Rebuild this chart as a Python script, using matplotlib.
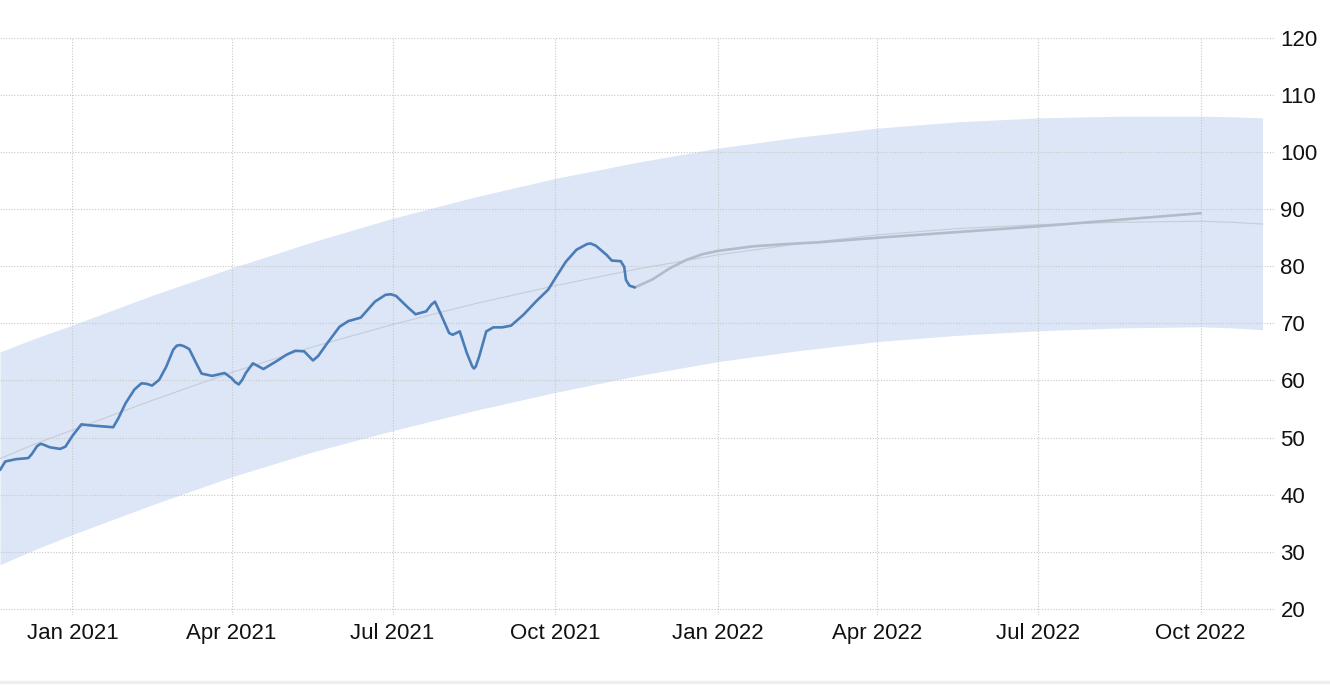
"""
Trend chart with forecast band, Nov 2020 - Nov 2022.
"""
import pandas as pd
import matplotlib.pyplot as plt

plt.rcParams['font.family'] = ['Liberation Sans', 'DejaVu Sans']

#### Data
hist_dates = ['2020-11-21', '2020-11-24', '2020-11-30', '2020-12-07', '2020-12-09',
              '2020-12-12', '2020-12-14', '2020-12-16', '2020-12-19', '2020-12-25',
              '2020-12-28', '2021-01-01', '2021-01-06', '2021-01-12', '2021-01-20',
              '2021-01-24', '2021-01-27', '2021-01-31', '2021-02-05', '2021-02-09',
              '2021-02-12', '2021-02-15', '2021-02-19', '2021-02-23', '2021-02-27',
              '2021-03-01', '2021-03-03', '2021-03-05', '2021-03-08', '2021-03-12',
              '2021-03-15', '2021-03-21', '2021-03-28', '2021-04-01', '2021-04-03',
              '2021-04-05', '2021-04-07', '2021-04-09', '2021-04-13', '2021-04-16',
              '2021-04-19', '2021-04-26', '2021-05-02', '2021-05-07', '2021-05-12',
              '2021-05-17', '2021-05-20', '2021-05-25', '2021-06-01', '2021-06-06',
              '2021-06-13', '2021-06-21', '2021-06-27', '2021-06-30', '2021-07-03',
              '2021-07-10', '2021-07-14', '2021-07-20', '2021-07-23', '2021-07-25',
              '2021-07-28', '2021-08-02', '2021-08-04', '2021-08-08', '2021-08-12',
              '2021-08-15', '2021-08-16', '2021-08-17', '2021-08-19', '2021-08-23',
              '2021-08-27', '2021-09-01', '2021-09-06', '2021-09-13', '2021-09-20',
              '2021-09-27', '2021-10-01', '2021-10-07', '2021-10-13', '2021-10-19',
              '2021-10-21', '2021-10-24', '2021-10-30', '2021-11-02', '2021-11-07',
              '2021-11-09', '2021-11-10', '2021-11-12', '2021-11-15']
hist_values = [44.3, 45.8, 46.2, 46.4, 47.1,
               48.5, 48.9, 48.7, 48.3, 48.0,
               48.4, 50.3, 52.3, 52.1, 51.9,
               51.8, 53.4, 56.0, 58.4, 59.5,
               59.4, 59.1, 60.1, 62.4, 65.4,
               66.1, 66.2, 66.0, 65.5, 63.0,
               61.2, 60.8, 61.3, 60.4, 59.7,
               59.3, 60.1, 61.3, 63.0, 62.5,
               62.0, 63.3, 64.5, 65.2, 65.1,
               63.5, 64.3, 66.5, 69.4, 70.4,
               71.0, 73.8, 75.0, 75.1, 74.8,
               72.7, 71.6, 72.1, 73.3, 73.8,
               71.8, 68.3, 68.0, 68.6, 64.8,
               62.5, 62.1, 62.4, 64.2, 68.6,
               69.3, 69.3, 69.6, 71.5, 73.8,
               75.9, 77.9, 80.8, 82.9, 83.9,
               84.0, 83.6, 82.0, 81.0, 80.9,
               79.9, 77.6, 76.6, 76.3]

fc_dates = ['2021-11-15', '2021-11-25', '2021-12-05', '2021-12-14', '2021-12-23',
            '2022-01-01', '2022-01-21', '2022-02-09', '2022-02-27', '2022-04-01',
            '2022-07-01', '2022-10-01']
fc_values = [76.3, 77.7, 79.7, 81.1, 82.1,
             82.7, 83.5, 83.9, 84.2, 85.0,
             87.0, 89.3]

band_dates = ['2020-11-21', '2020-12-11', '2021-01-01', '2021-02-15', '2021-04-01',
              '2021-05-16', '2021-07-01', '2021-08-16', '2021-10-01', '2021-11-16',
              '2022-01-01', '2022-02-15', '2022-04-01', '2022-05-16', '2022-07-01',
              '2022-08-16', '2022-10-01', '2022-10-19', '2022-11-05']
band_upper = [65.0, 67.4, 69.7, 74.9, 79.7, 84.2, 88.4, 92.1, 95.4, 98.2,
              100.7, 102.6, 104.2, 105.3, 106.0, 106.3, 106.3, 106.2, 106.0]
band_lower = [27.7, 30.4, 33.0, 38.2, 43.1, 47.4, 51.2, 54.7, 57.9, 60.8,
              63.3, 65.2, 66.8, 67.9, 68.7, 69.2, 69.4, 69.2, 68.9]
trend_values = [46.3, 48.9, 51.3, 56.5, 61.4, 65.8, 69.8, 73.4, 76.6, 79.5,
                82.0, 83.9, 85.5, 86.6, 87.3, 87.7, 87.9, 87.7, 87.4]

tick_dates = ['2021-01-01', '2021-04-01', '2021-07-01', '2021-10-01',
              '2022-01-01', '2022-04-01', '2022-07-01', '2022-10-01']
tick_labels = ['Jan 2021', 'Apr 2021', 'Jul 2021', 'Oct 2021',
               'Jan 2022', 'Apr 2022', 'Jul 2022', 'Oct 2022']
y_ticks = [20, 30, 40, 50, 60, 70, 80, 90, 100, 110, 120]

#### Sets up the figure
fig = plt.figure(figsize=(13.3, 6.86), dpi=100, facecolor='white')
ax = fig.add_axes([0, 0.1035, 0.9586, 0.8411])
for side in ['left', 'right', 'top', 'bottom']:
    ax.spines[side].set_visible(False)

bd = pd.to_datetime(band_dates)
ax.fill_between(bd, band_lower, band_upper, color='#dce6f7', linewidth=0,
                zorder=1)
ax.plot(bd, trend_values, color='#c6ccd6', linewidth=0.8, zorder=2)
ax.plot(pd.to_datetime(fc_dates), fc_values, color='#b3bbca', linewidth=1.9,
        solid_capstyle='round', solid_joinstyle='round', zorder=3)
ax.plot(pd.to_datetime(hist_dates), hist_values, color='#4a7cb6', linewidth=1.9,
        solid_capstyle='round', solid_joinstyle='round', zorder=4)

#### Axes, ticks, grid
ax.set_xlim(pd.Timestamp('2020-11-21'), pd.Timestamp('2022-11-12'))
ax.set_ylim(18.9, 120)
ax.set_xticks(pd.to_datetime(tick_dates))
ax.set_xticklabels(tick_labels)
ax.set_yticks(y_ticks)
ax.yaxis.tick_right()
ax.tick_params(axis='both', length=0, labelsize=16, labelcolor='#111111')
ax.tick_params(axis='x', pad=6)
ax.tick_params(axis='y', pad=4)
ax.grid(True, linestyle=(0, (1, 1.5)), color='#c8c8c8', linewidth=0.8)
ax.set_axisbelow(False)

# thin separator at the bottom of the widget
fig.add_artist(plt.Line2D([0, 1], [0.0065, 0.0065], color='#eeeeee',
                          linewidth=2.5, transform=fig.transFigure))

plt.savefig('out.png', dpi=100, facecolor='white')
